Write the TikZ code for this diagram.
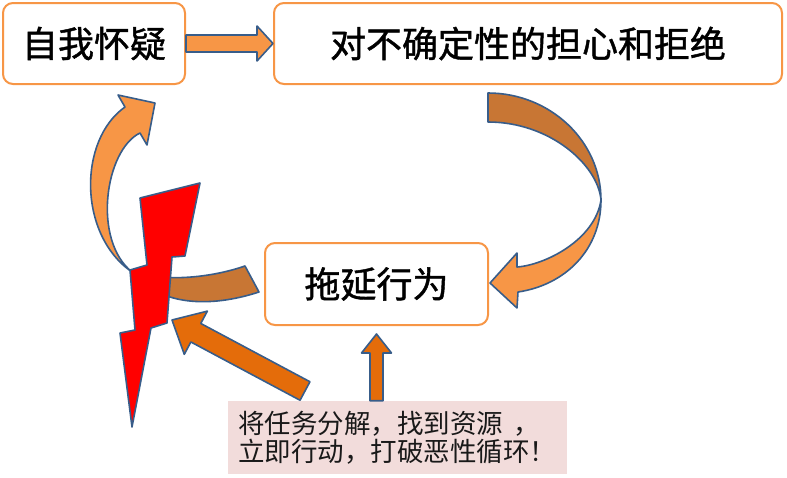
\documentclass[tikz,border=0pt]{standalone}
\usepackage{fontspec}
\newfontfamily\cjk{Noto Sans CJK SC}
\newfontfamily\cjkheavy[FakeBold=1.2]{Noto Sans CJK SC}
\usepackage{tikz}
\usetikzlibrary{
    calc,
    positioning
}
\usepackage{xcolor}
\definecolor{boxorange}{RGB}{247,150,70}
\definecolor{deeporange}{RGB}{228,108,10}
\definecolor{arcbrown}{RGB}{200,118,52}
\definecolor{edgeblue}{RGB}{56,93,138}
\definecolor{notepink}{RGB}{242,220,219}
\definecolor{boltred}{RGB}{255,0,0}
\definecolor{notetext}{RGB}{25,25,25}

\begin{document}
\begin{tikzpicture}[
    x=1pt, y=-1pt,
    stage/.style={
        rectangle, rounded corners=10pt,
        draw=boxorange, line width=2pt, fill=white,
        inner sep=0pt, align=center, font=\cjkheavy\fontsize{36}{40}\selectfont
    },
    note/.style={
        rectangle, fill=notepink, inner sep=10pt,
        text width=319pt, minimum height=69pt, align=left,
        text=notetext, font=\cjk\fontsize{26.5}{28}\selectfont
    },
    shapeedge/.style={draw=edgeblue, line width=1.6pt, line join=round},
    fatarrow/.style n args={3}{shapeedge, to path={
        ($(\tikztostart)!#1!90:(\tikztotarget)$)
        -- ($(\tikztotarget)!#3!(\tikztostart)!#1!90:(\tikztotarget)$)
        -- ($(\tikztotarget)!#3!(\tikztostart)!#2!90:(\tikztotarget)$)
        -- (\tikztotarget)
        -- ($(\tikztotarget)!#3!(\tikztostart)!#2!-90:(\tikztotarget)$)
        -- ($(\tikztotarget)!#3!(\tikztostart)!#1!-90:(\tikztotarget)$)
        -- ($(\tikztostart)!#1!-90:(\tikztotarget)$)
        -- cycle}}
]
\useasboundingbox (0,0) rectangle (787,477);

% Stages
\node[stage, minimum width=182pt, minimum height=81pt] (doubt) at (94,43.5) {自我怀疑};
\node[stage, minimum width=508pt, minimum height=81pt] (worry) at (528,43.5) {对不确定性的担心和拒绝};
\node[stage, minimum width=223pt, minimum height=82pt] (delay) at (376.5,284) {拖延行为};

% Straight arrow
\draw[fatarrow={8.5pt}{17.5pt}{16pt}, fill=boxorange] (doubt.east) to (worry.west);

% Right loop arrow
\draw[shapeedge, fill=arcbrown] (488,93) .. controls (550,93) and (601,141) .. (601,200)
    .. controls (598,165) and (550,122) .. (488,122) -- cycle;
\draw[shapeedge, fill=boxorange] (601,200) .. controls (601,250) and (565,285) .. (518,292)
    -- (517,308) -- (490,283) -- (517,253) -- (517,267)
    .. controls (545,265) and (595,240) .. (601,200) -- cycle;

% Left loop arrow
\draw[shapeedge, fill=arcbrown] (132,272) .. controls (165,282) and (210,278) .. (245,266)
    -- (259,292) .. controls (210,308) and (160,306) .. (132,272) -- cycle;
\draw[shapeedge, fill=boxorange] (132,272) .. controls (78,235) and (78,140) .. (125,107)
    -- (118,95) -- (155,103) -- (147,145) -- (140,133)
    .. controls (105,150) and (92,240) .. (132,272) -- cycle;

% Lightning
\draw[shapeedge, fill=boltred] (140,198) -- (200,183) -- (185,256) -- (172,257)
    -- (167,323) -- (151,328) -- (132,427) -- (120,333) -- (135,330)
    -- (130,270) -- (147,265) -- cycle;

% Advice
\node[note] (note) at (397.5,437.5) {将任务分解，找到资源\hspace{0.4em}，\\立即行动，打破恶性循环！};

\coordinate (push) at (305,391);
\coordinate (strike) at (172,320);
\coordinate (lift) at (delay.south |- note.north);
\coordinate (lifttip) at ($(delay.south)+(0,8)$);

\draw[fatarrow={10.5pt}{24.5pt}{27pt}, fill=deeporange] (push) to (strike);
\draw[fatarrow={6.5pt}{15pt}{19pt}, fill=deeporange] (lift) to (lifttip);

\end{tikzpicture}
\end{document}
